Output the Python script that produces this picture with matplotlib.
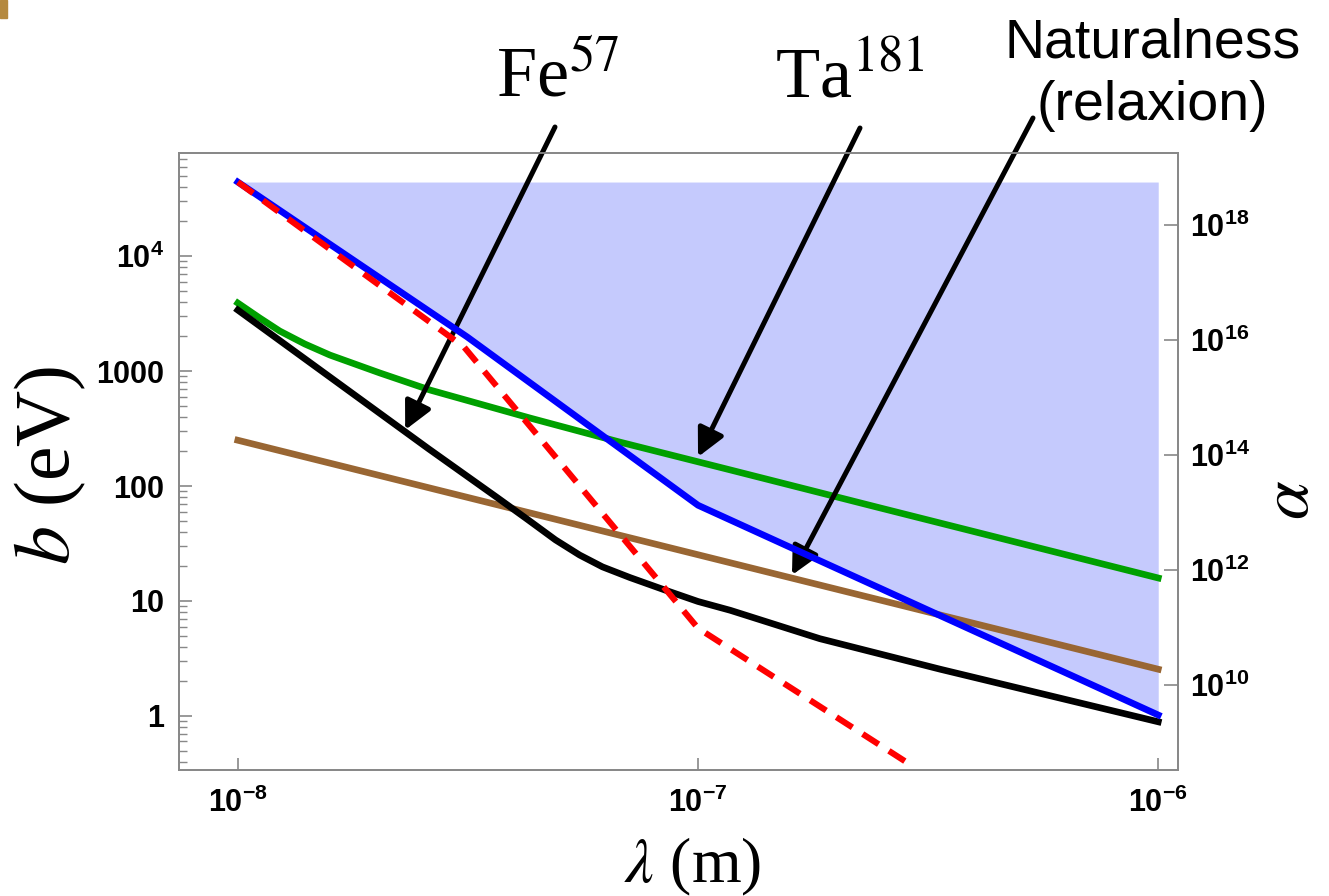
import numpy as np
import matplotlib
matplotlib.use("Agg")
import matplotlib.pyplot as plt
from matplotlib.patches import Rectangle
from matplotlib.ticker import FixedLocator, LogLocator, NullLocator
from matplotlib.font_manager import FontProperties

plt.rcParams['mathtext.fontset'] = 'custom'
plt.rcParams['mathtext.rm'] = 'Liberation Sans'
plt.rcParams['mathtext.bf'] = 'Liberation Sans:bold'
plt.rcParams['mathtext.it'] = 'Liberation Sans:italic'

# curves: lambda (m) vs b (eV)
lam_blue = [1e-8, 3.15e-8, 1e-7, 1e-6]
b_blue = [44000, 1980, 68, 1.02]

lam_red = [1e-8, 3.1e-8, 1e-7, 2.9e-7]
b_red = [44000, 1620, 5.8, 0.375]

lam_black = [1e-8, 2.6e-8, 3.65e-8, 4.25e-8, 4.9e-8, 5.53e-8, 6.2e-8, 7.11e-8, 8.5e-8,
             1e-7, 1.175e-7, 1.84e-7, 3.36e-7, 1e-6]
b_black = [3390, 210, 80, 51.6, 34, 25.1, 19.8, 16.0, 12.4, 9.9, 8.3, 4.7, 2.55, 0.89]

lam_green = [1e-8, 1.116e-8, 1.233e-8, 1.398e-8, 1.585e-8, 2.036e-8, 2.614e-8, 4.315e-8,
             6.76e-8, 1.175e-7, 2.49e-7, 1e-6]
b_green = [3900, 2890, 2228, 1718, 1377, 961, 684, 390, 241, 138, 64.4, 15.85]

lam_brown = [1e-8, 1e-6]
b_brown = [250, 2.55]

# axis ranges and ticks
xlim = (7.45e-9, 1.104e-6)
ylim = (0.339, 78700)
xticks = [1e-8, 1e-7, 1e-6]
xticklabels = [r'$\mathbf{10^{-8}}$', r'$\mathbf{10^{-7}}$', r'$\mathbf{10^{-6}}$']
yticks = [1, 10, 100, 1000, 1e4]
yticklabels = ['1', '10', '100', '1000', r'$\mathbf{10^{4}}$']
aticks = [1e10, 1e12, 1e14, 1e16, 1e18]
aticklabels = [r'$\mathbf{10^{10}}$', r'$\mathbf{10^{12}}$', r'$\mathbf{10^{14}}$',
               r'$\mathbf{10^{16}}$', r'$\mathbf{10^{18}}$']
alpha_offset = 9.46  # log10(alpha) = 2*log10(b) + offset

fig = plt.figure(figsize=(13.29, 8.96), dpi=100)
ax = fig.add_axes([179/1329, 1-770/896, 999/1329, 617/896])

lw = 4.8
ax.fill_between(lam_blue, b_blue, b_blue[0], color='#c5cafd', lw=0, zorder=1)
ax.plot(lam_brown, b_brown, color='#996633', lw=lw, zorder=3)
ax.plot(lam_green, b_green, color='#00a000', lw=lw, zorder=3)
ax.plot(lam_black, b_black, color='black', lw=lw, zorder=3)
ax.plot(lam_blue, b_blue, color='#0000ff', lw=lw, zorder=4)
ax.plot(lam_red, b_red, color='#ff0000', lw=4.4, dashes=(3.1, 2.0), zorder=5)

ax.set_xscale('log')
ax.set_yscale('log')
ax.set_xlim(*xlim)
ax.set_ylim(*ylim)

ax.xaxis.set_major_locator(FixedLocator(xticks))
ax.set_xticklabels(xticklabels)
ax.xaxis.set_minor_locator(NullLocator())
ax.yaxis.set_major_locator(FixedLocator(yticks))
ax.set_yticklabels(yticklabels)
ax.yaxis.set_minor_locator(LogLocator(base=10, subs=np.arange(2, 10)))
ax.yaxis.set_minor_formatter(plt.NullFormatter())

tick_font = FontProperties(family='Liberation Sans', weight='bold', size=22)
for lab in ax.get_xticklabels() + ax.get_yticklabels():
    lab.set_fontproperties(tick_font)
ax.tick_params(axis='both', which='major', direction='in', length=9, width=1.2,
               color='#888888', labelcolor='black')
ax.tick_params(axis='x', pad=13)
ax.tick_params(axis='y', pad=11)
ax.tick_params(axis='y', which='minor', direction='in', length=6, width=1.0, color='#888888')
ax.tick_params(top=False, right=False, which='both')

ax2 = ax.twinx()
ax2.set_yscale('log')
ax2.set_ylim(10**(2*np.log10(ylim[0]) + alpha_offset), 10**(2*np.log10(ylim[1]) + alpha_offset))
ax2.yaxis.set_major_locator(FixedLocator(aticks))
ax2.set_yticklabels(aticklabels)
ax2.yaxis.set_minor_locator(NullLocator())
for lab in ax2.get_yticklabels():
    lab.set_fontproperties(tick_font)
ax2.tick_params(axis='y', direction='in', length=10, width=1.2, color='#888888', pad=9)

for a in (ax, ax2):
    for sp in a.spines.values():
        sp.set_color('#888888')
        sp.set_linewidth(1.3)

serif = dict(family='Liberation Serif', math_fontfamily='stix', color='black')
fig.text(50/1329, 1-465/896, r'$b$ (eV)', rotation=90, ha='center', va='center', size=56, **serif)
fig.text(1291/1329, 1-500/896, r'$\alpha$', rotation=90, ha='center', va='center', size=50, **serif)
fig.text(693/1329, 14/896, r'$\lambda$ (m)', ha='center', va='baseline', size=46, **serif)

fig.text(558/1329, 1-97/896, r'Fe$^{57}$', ha='center', va='baseline', size=52, **serif)
fig.text(850/1329, 1-97/896, r'Ta$^{181}$', ha='center', va='baseline', size=52, **serif)
fig.text(1153/1329, 1-58/896, 'Naturalness', ha='center', va='baseline', size=40,
         family='Liberation Sans')
fig.text(1152/1329, 1-120/896, '(relaxion)', ha='center', va='baseline', size=40,
         family='Liberation Sans')

arrow = dict(arrowstyle='-|>', lw=3.6, color='black', mutation_scale=42, shrinkA=0, shrinkB=0)
ax.annotate('', xy=(2.31e-8, 307), xytext=(555, 896-127), textcoords='figure pixels',
            arrowprops=arrow, annotation_clip=False)
ax.annotate('', xy=(1e-7, 179), xytext=(860, 896-128), textcoords='figure pixels',
            arrowprops=arrow, annotation_clip=False)
ax.annotate('', xy=(1.6e-7, 16.8), xytext=(1033, 896-118), textcoords='figure pixels',
            arrowprops=arrow, annotation_clip=False)

fig.patches.append(Rectangle((0, 1-18/896), 7/1329, 18/896, transform=fig.transFigure,
                             color='#b5893f', figure=fig))

fig.savefig('out.png', dpi=100)
